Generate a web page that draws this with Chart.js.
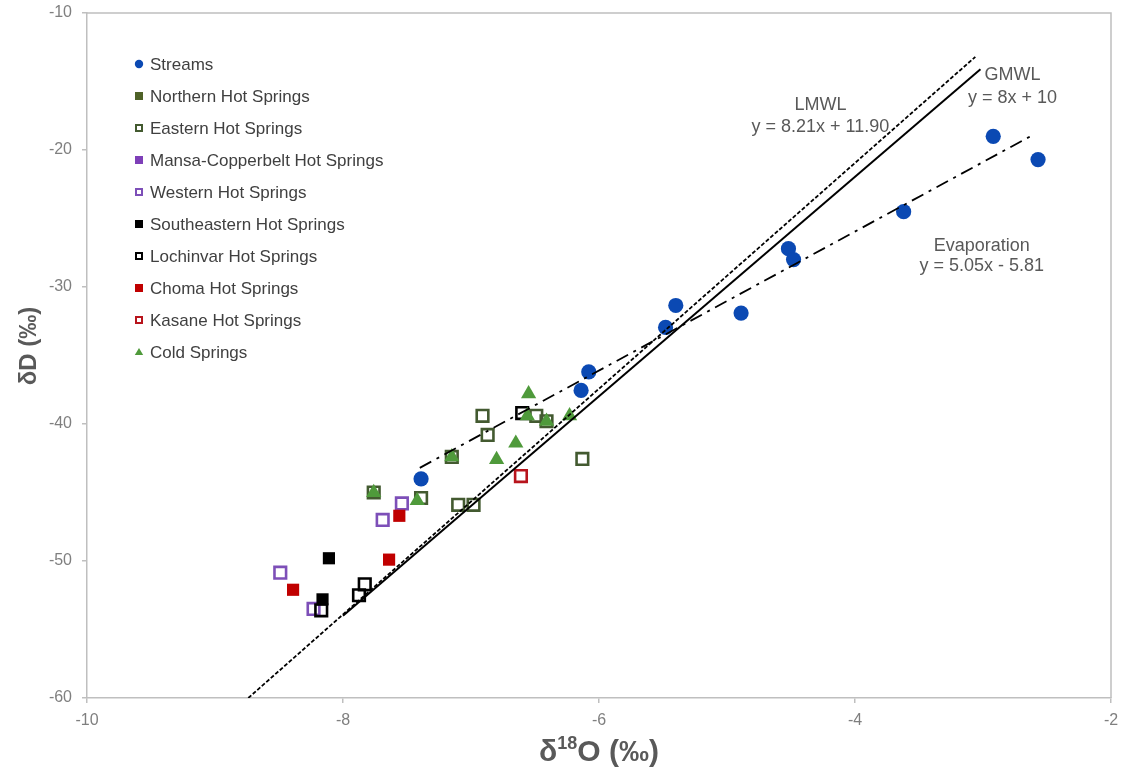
<!DOCTYPE html>
<html>
<head>
<meta charset="utf-8">
<script src="https://cdn.jsdelivr.net/npm/chart.js@4.4.1/dist/chart.umd.min.js"></script>
<style>
  html, body { margin: 0; padding: 0; background: #fff; }
  #wrap { width: 1125px; height: 774px; }
</style>
</head>
<body>
<div id="wrap"><canvas id="isoChart" width="1125" height="774"></canvas></div>
<script>
// axis ticks
const xTicks = [-10, -8, -6, -4, -2];
const yTicks = [-10, -20, -30, -40, -50, -60];

// sample points [d18O, dD]
const streams = [[-7.39, -44.0], [-6.14, -37.55], [-6.08, -36.2], [-5.48, -32.95], [-5.40, -31.35],
    [-4.89, -31.9], [-4.52, -27.2], [-4.48, -28.0], [-3.62, -24.5], [-2.92, -19.0], [-2.57, -20.7]];
const northernHot = [];
const easternHot = [[-7.76, -45.0], [-7.39, -45.4], [-7.15, -42.4], [-7.10, -45.9], [-6.98, -45.9],
    [-6.91, -39.4], [-6.87, -40.8], [-6.49, -39.4], [-6.41, -39.8], [-6.13, -42.55]];
const mansaHot = [];
const westernHot = [[-8.49, -50.85], [-8.23, -53.5], [-7.69, -47.0], [-7.54, -45.8]];
const southeasternHot = [[-8.11, -49.8], [-8.16, -52.8]];
const lochinvarHot = [[-8.17, -53.6], [-7.83, -51.7], [-7.875, -52.5], [-6.60, -39.2]];
const chomaHot = [[-8.39, -52.1], [-7.56, -46.7], [-7.64, -49.9]];
const kasaneHot = [[-6.61, -43.8]];
const coldSprings = [[-7.76, -45.0], [-7.42, -45.6], [-7.15, -42.4], [-6.80, -42.6], [-6.65, -41.4],
    [-6.55, -37.8], [-6.56, -39.4], [-6.41, -39.8], [-6.23, -39.4]];

// water lines, end points as drawn
const lmwlX = [-8.74, -3.06];
const lmwlY = [-60, -13.2];
const gmwlX = [-8.0, -3.02];
const gmwlY = [-54.0, -14.1];
const evapX = [-7.40, -2.61];
const evapY = [-43.2, -18.9];

const toPts = arr => arr.map(p => ({ x: p[0], y: p[1] }));
const linePts = (xs, ys) => xs.map((x, i) => ({ x: x, y: ys[i] }));

const FONT = "'Liberation Sans', Arial, sans-serif";
const NARROW = "'Liberation Sans Narrow', 'Liberation Sans', Arial, sans-serif";

// marker styles: kind = circle | fill | open | tri
const groups = [
    { label: 'Streams', data: streams, kind: 'circle', color: '#0b49b3' },
    { label: 'Northern Hot Springs', data: northernHot, kind: 'fill', color: '#4f6228' },
    { label: 'Eastern Hot Springs', data: easternHot, kind: 'open', color: '#435a30' },
    { label: 'Mansa-Copperbelt Hot Springs', data: mansaHot, kind: 'fill', color: '#7e3fb8' },
    { label: 'Western Hot Springs', data: westernHot, kind: 'open', color: '#7d4fb8' },
    { label: 'Southeastern Hot Springs', data: southeasternHot, kind: 'fill', color: '#000000' },
    { label: 'Lochinvar Hot Springs', data: lochinvarHot, kind: 'open', color: '#000000' },
    { label: 'Choma Hot Springs', data: chomaHot, kind: 'fill', color: '#c00000' },
    { label: 'Kasane Hot Springs', data: kasaneHot, kind: 'open', color: '#b8141c' },
    { label: 'Cold Springs', data: coldSprings, kind: 'tri', color: '#4f9a3b' }
];

function pointDataset(g, i) {
    const ds = { label: g.label, data: toPts(g.data), order: 10 + (groups.length - i) };
    if (g.kind === 'circle') {
        Object.assign(ds, { pointStyle: 'circle', pointRadius: 7.6, backgroundColor: g.color, borderColor: g.color, borderWidth: 0 });
    } else if (g.kind === 'fill') {
        Object.assign(ds, { pointStyle: 'rect', pointRadius: 8.6, backgroundColor: g.color, borderColor: g.color, borderWidth: 0 });
    } else if (g.kind === 'open') {
        Object.assign(ds, { pointStyle: 'rect', pointRadius: 8.2, backgroundColor: 'rgba(255,255,255,0)', borderColor: g.color, borderWidth: 2.6 });
    } else {
        Object.assign(ds, { pointStyle: 'triangle', pointRadius: 8.8, backgroundColor: g.color, borderColor: g.color, borderWidth: 0 });
    }
    ds.pointHoverRadius = ds.pointRadius;
    return ds;
}

const lineDatasets = [
    { label: 'LMWL', data: linePts(lmwlX, lmwlY), showLine: true, pointRadius: 0, borderColor: '#000', borderWidth: 1.8, borderDash: [4, 2], order: 1 },
    { label: 'GMWL', data: linePts(gmwlX, gmwlY), showLine: true, pointRadius: 0, borderColor: '#000', borderWidth: 2, order: 2 },
    { label: 'Evaporation', data: linePts(evapX, evapY), showLine: true, pointRadius: 0, borderColor: '#000', borderWidth: 1.8, borderDash: [13, 6, 3, 6], order: 3 }
];

// text labels next to the lines (data coordinates)
const lineNotes = [
    { x: -4.27, y: -16.7, text: 'LMWL' },
    { x: -4.27, y: -18.35, text: 'y = 8.21x + 11.90' },
    { x: -2.77, y: -14.55, text: 'GMWL' },
    { x: -2.77, y: -16.2, text: 'y = 8x + 10' },
    { x: -3.01, y: -27.0, text: 'Evaporation' },
    { x: -3.01, y: -28.5, text: 'y = 5.05x - 5.81' }
];

const extras = {
    id: 'extras',
    beforeDatasetsDraw(chart) {
        const a = chart.chartArea, ctx = chart.ctx;
        ctx.save();
        ctx.strokeStyle = '#bfbfbf';
        ctx.lineWidth = 1.5;
        ctx.beginPath();
        ctx.moveTo(a.left, a.top);
        ctx.lineTo(a.right, a.top);
        ctx.lineTo(a.right, a.bottom);
        ctx.stroke();
        ctx.restore();
    },
    afterDraw(chart) {
        const ctx = chart.ctx;
        const xs = chart.scales.x, ys = chart.scales.y;
        ctx.save();

        // legend inside the plot
        ctx.textBaseline = 'middle';
        ctx.textAlign = 'left';
        ctx.font = '17px ' + FONT;
        groups.forEach((g, i) => {
            const cy = 64 + i * 32, cx = 139;
            ctx.fillStyle = g.color;
            ctx.strokeStyle = g.color;
            if (g.kind === 'circle') {
                ctx.beginPath(); ctx.arc(cx, cy, 4.2, 0, Math.PI * 2); ctx.fill();
            } else if (g.kind === 'fill') {
                ctx.fillRect(cx - 4, cy - 4, 8, 8);
            } else if (g.kind === 'open') {
                ctx.lineWidth = 2; ctx.strokeRect(cx - 3, cy - 3, 6, 6);
            } else {
                ctx.beginPath(); ctx.moveTo(cx, cy - 4); ctx.lineTo(cx + 4.2, cy + 3); ctx.lineTo(cx - 4.2, cy + 3); ctx.closePath(); ctx.fill();
            }
            ctx.fillStyle = '#404040';
            ctx.fillText(g.label, 150, cy + 1);
        });

        // line labels
        ctx.textAlign = 'center';
        ctx.fillStyle = '#595959';
        ctx.font = '18px ' + FONT;
        lineNotes.forEach(n => ctx.fillText(n.text, xs.getPixelForValue(n.x), ys.getPixelForValue(n.y)));

        // axis titles
        ctx.fillStyle = '#595959';
        ctx.font = 'bold 24px ' + FONT;
        ctx.save();
        ctx.translate(29, 346);
        ctx.rotate(-Math.PI / 2);
        ctx.fillText('\u03b4D (\u2030)', 0, 0);
        ctx.restore();

        const big = 'bold 30px ' + NARROW, small = 'bold 18px ' + NARROW;
        ctx.font = big; const w1 = ctx.measureText('\u03b4').width, w3 = ctx.measureText('O (\u2030)').width;
        ctx.font = small; const w2 = ctx.measureText('18').width;
        let tx = (chart.chartArea.left + chart.chartArea.right) / 2 - (w1 + w2 + w3) / 2;
        const ty = 753;
        ctx.textAlign = 'left';
        ctx.font = big; ctx.fillText('\u03b4', tx, ty); tx += w1;
        ctx.font = small; ctx.fillText('18', tx, ty - 9); tx += w2;
        ctx.font = big; ctx.fillText('O (\u2030)', tx, ty);
        ctx.restore();
    }
};

const ctx = document.getElementById('isoChart').getContext('2d');
const isoChart = new Chart(ctx, {
    type: 'scatter',
    data: { datasets: lineDatasets.concat(groups.map(pointDataset)) },
    options: {
        responsive: false,
        animation: false,
        devicePixelRatio: 1,
        layout: { padding: { top: 13, right: 14, left: 0, bottom: 0 } },
        plugins: { legend: { display: false }, tooltip: { enabled: false } },
        scales: {
            x: {
                type: 'linear', min: xTicks[0], max: xTicks[xTicks.length - 1],
                afterBuildTicks: s => { s.ticks = xTicks.map(v => ({ value: v })); },
                afterFit: s => { s.height = 76; s.paddingLeft = 0; s.paddingRight = 0; },
                ticks: { color: '#7f7f7f', font: { family: NARROW, size: 16 }, padding: 8 },
                grid: { drawOnChartArea: false, drawTicks: true, tickLength: 5, color: '#bfbfbf', lineWidth: 1.5 },
                border: { color: '#bfbfbf', width: 1.5 }
            },
            y: {
                type: 'linear', min: yTicks[yTicks.length - 1], max: yTicks[0],
                afterBuildTicks: s => { s.ticks = yTicks.map(v => ({ value: v })); },
                afterFit: s => { s.width = 87; s.paddingTop = 0; s.paddingBottom = 0; },
                ticks: { color: '#7f7f7f', font: { family: NARROW, size: 16 }, padding: 10 },
                grid: { drawOnChartArea: false, drawTicks: true, tickLength: 5, color: '#bfbfbf', lineWidth: 1.5 },
                border: { color: '#bfbfbf', width: 1.5 }
            }
        }
    },
    plugins: [extras]
});
</script>
</body>
</html>
